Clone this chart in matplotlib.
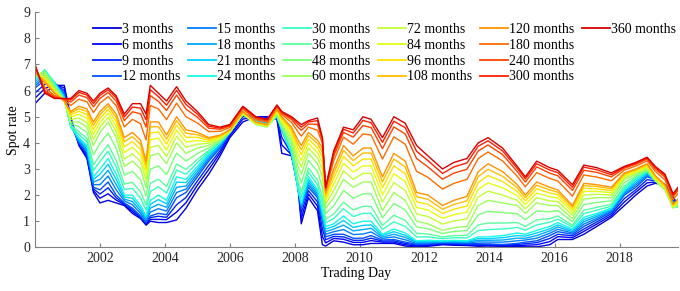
import numpy as np
import matplotlib
matplotlib.use('Agg')
from matplotlib import pyplot as plt
from matplotlib.lines import Line2D

plt.rcParams['font.family'] = ['Liberation Serif', 'DejaVu Serif']
plt.rcParams['font.size'] = 10

# decimal years of the sampled trading days
dates = [2000.00, 2000.3, 2000.6, 2000.9, 2001.1, 2001.35, 2001.6, 2001.8, 2002.0, 2002.25,
         2002.5, 2002.75, 2003.0, 2003.25, 2003.42, 2003.55, 2003.8, 2004.05, 2004.36, 2004.65,
         2005.0, 2005.35, 2005.7, 2006.0, 2006.4, 2006.8, 2007.15, 2007.45, 2007.6, 2007.9,
         2008.1, 2008.2, 2008.42, 2008.7, 2008.85, 2008.95, 2009.2, 2009.5, 2009.8, 2010.1,
         2010.35, 2010.7, 2011.05, 2011.4, 2011.75, 2012.1, 2012.55, 2012.9, 2013.3, 2013.65,
         2013.95, 2014.4, 2014.85, 2015.1, 2015.45, 2015.85, 2016.1, 2016.55, 2016.9, 2017.3,
         2017.75, 2018.15, 2018.5, 2018.85, 2019.1, 2019.4, 2019.65, 2019.8]

maturities = [3, 6, 9, 12, 15, 18, 21, 24, 30, 36, 48, 60, 72, 84, 96, 108, 120, 180, 240, 300, 360]

r3 = [5.5, 5.9, 6.2, 6.2, 5.0, 3.9, 3.4, 2.1, 1.7, 1.8, 1.7, 1.6, 1.3, 1.1, 0.85, 1.0, 0.95, 0.95, 1.05, 1.5,
      2.2, 2.8, 3.5, 4.2, 4.8, 5.0, 5.0, 4.9, 3.6, 3.5, 2.3, 0.9, 1.9, 1.4, 0.1, 0.05, 0.25, 0.2, 0.1, 0.1,
      0.15, 0.15, 0.15, 0.05, 0.02, 0.04, 0.1, 0.08, 0.07, 0.04, 0.05, 0.04, 0.03, 0.02, 0.02, 0.1, 0.3, 0.3, 0.5, 0.8,
      1.15, 1.6, 2.0, 2.35, 2.45, 2.4, 1.95, 1.6]
r6 = [5.71, 6.08, 6.24, 6.1, 4.9, 3.94, 3.47, 2.17, 1.88, 2.05, 1.81, 1.64, 1.37, 1.14, 0.89, 1.07, 1.07, 1.06, 1.35, 1.71,
      2.38, 2.98, 3.61, 4.27, 4.91, 5.0, 4.97, 4.94, 3.92, 3.54, 2.3, 1.11, 2.04, 1.58, 0.42, 0.17, 0.34, 0.31, 0.19, 0.19,
      0.26, 0.2, 0.2, 0.1, 0.06, 0.07, 0.12, 0.11, 0.09, 0.08, 0.08, 0.06, 0.07, 0.08, 0.1, 0.22, 0.41, 0.37, 0.61, 0.89,
      1.22, 1.74, 2.11, 2.47, 2.5, 2.4, 1.9, 1.6]
r9 = [5.91, 6.24, 6.27, 6.0, 4.8, 3.97, 3.54, 2.24, 2.04, 2.28, 1.9, 1.67, 1.44, 1.17, 0.92, 1.14, 1.19, 1.15, 1.63, 1.91,
      2.54, 3.14, 3.7, 4.34, 5.0, 5.0, 4.93, 4.97, 4.21, 3.57, 2.3, 1.31, 2.17, 1.74, 0.71, 0.29, 0.42, 0.4, 0.27, 0.27,
      0.35, 0.24, 0.25, 0.15, 0.09, 0.1, 0.15, 0.13, 0.12, 0.11, 0.1, 0.09, 0.11, 0.14, 0.18, 0.34, 0.5, 0.44, 0.7, 0.97,
      1.29, 1.87, 2.2, 2.59, 2.55, 2.4, 1.85, 1.6]
r12 = [6.1, 6.4, 6.3, 5.9, 4.7, 4.0, 3.6, 2.3, 2.2, 2.5, 2.0, 1.7, 1.5, 1.2, 0.95, 1.2, 1.3, 1.25, 1.9, 2.1,
       2.7, 3.3, 3.8, 4.4, 5.1, 5.0, 4.9, 5.0, 4.5, 3.6, 2.3, 1.5, 2.3, 1.9, 1.0, 0.4, 0.5, 0.5, 0.35, 0.35,
       0.45, 0.28, 0.3, 0.2, 0.12, 0.13, 0.17, 0.16, 0.14, 0.14, 0.13, 0.11, 0.15, 0.2, 0.25, 0.45, 0.6, 0.5, 0.8, 1.05,
       1.35, 2.0, 2.3, 2.7, 2.6, 2.4, 1.8, 1.6]
r15 = [6.18, 6.5, 6.3, 5.85, 4.68, 4.05, 3.68, 2.4, 2.4, 2.73, 2.2, 1.78, 1.63, 1.3, 1.01, 1.35, 1.48, 1.39, 2.1, 2.23,
       2.8, 3.38, 3.85, 4.4, 5.1, 4.95, 4.85, 5.0, 4.5, 3.6, 2.28, 1.55, 2.4, 1.98, 1.1, 0.5, 0.6, 0.68, 0.49, 0.51,
       0.59, 0.34, 0.4, 0.29, 0.15, 0.17, 0.19, 0.19, 0.17, 0.21, 0.2, 0.2, 0.25, 0.28, 0.35, 0.54, 0.69, 0.55, 0.89, 1.11,
       1.39, 2.05, 2.38, 2.75, 2.59, 2.36, 1.74, 1.59]
r18 = [6.25, 6.6, 6.3, 5.8, 4.65, 4.1, 3.75, 2.5, 2.6, 2.95, 2.4, 1.85, 1.75, 1.4, 1.08, 1.5, 1.65, 1.53, 2.3, 2.35,
       2.9, 3.45, 3.9, 4.4, 5.1, 4.9, 4.8, 5.0, 4.5, 3.6, 2.25, 1.6, 2.5, 2.05, 1.2, 0.6, 0.7, 0.85, 0.63, 0.68,
       0.73, 0.39, 0.5, 0.38, 0.19, 0.2, 0.21, 0.22, 0.2, 0.27, 0.27, 0.28, 0.35, 0.35, 0.45, 0.63, 0.78, 0.6, 0.98, 1.18,
       1.43, 2.1, 2.45, 2.8, 2.58, 2.33, 1.68, 1.58]
r21 = [6.33, 6.7, 6.3, 5.75, 4.63, 4.15, 3.83, 2.6, 2.8, 3.18, 2.6, 1.93, 1.88, 1.5, 1.14, 1.65, 1.83, 1.66, 2.5, 2.48,
       3.0, 3.53, 3.95, 4.4, 5.1, 4.85, 4.75, 5.0, 4.5, 3.6, 2.23, 1.65, 2.6, 2.13, 1.3, 0.7, 0.8, 1.03, 0.76, 0.84,
       0.86, 0.45, 0.6, 0.46, 0.22, 0.24, 0.23, 0.24, 0.22, 0.34, 0.33, 0.37, 0.45, 0.43, 0.55, 0.71, 0.86, 0.65, 1.06, 1.24,
       1.46, 2.15, 2.53, 2.85, 2.56, 2.29, 1.61, 1.56]
r24 = [6.4, 6.8, 6.3, 5.7, 4.6, 4.2, 3.9, 2.7, 3.0, 3.4, 2.8, 2.0, 2.0, 1.6, 1.2, 1.8, 2.0, 1.8, 2.7, 2.6,
       3.1, 3.6, 4.0, 4.4, 5.1, 4.8, 4.7, 5.0, 4.5, 3.6, 2.2, 1.7, 2.7, 2.2, 1.4, 0.8, 0.9, 1.2, 0.9, 1.0,
       1.0, 0.5, 0.7, 0.55, 0.25, 0.27, 0.25, 0.27, 0.25, 0.4, 0.4, 0.45, 0.55, 0.5, 0.65, 0.8, 0.95, 0.7, 1.15, 1.3,
       1.5, 2.2, 2.6, 2.9, 2.55, 2.25, 1.55, 1.55]
r30 = [6.44, 6.78, 6.26, 5.68, 4.64, 4.32, 4.04, 2.94, 3.28, 3.68, 3.08, 2.22, 2.26, 1.88, 1.42, 2.14, 2.32, 2.08, 2.96, 2.8,
       3.24, 3.66, 4.02, 4.4, 5.1, 4.78, 4.68, 5.02, 4.54, 3.7, 2.38, 1.92, 2.88, 2.4, 1.66, 0.94, 1.1, 1.48, 1.18, 1.3,
       1.3, 0.68, 0.98, 0.8, 0.4, 0.4, 0.33, 0.37, 0.36, 0.64, 0.68, 0.7, 0.76, 0.66, 0.86, 0.96, 1.08, 0.78, 1.29, 1.42,
       1.58, 2.28, 2.64, 2.92, 2.55, 2.24, 1.54, 1.56]
r36 = [6.48, 6.76, 6.22, 5.66, 4.68, 4.43, 4.17, 3.16, 3.53, 3.93, 3.33, 2.42, 2.49, 2.13, 1.62, 2.45, 2.61, 2.33, 3.19, 2.98,
       3.37, 3.71, 4.04, 4.4, 5.1, 4.76, 4.66, 5.04, 4.58, 3.79, 2.54, 2.12, 3.04, 2.58, 1.89, 1.07, 1.28, 1.73, 1.43, 1.57,
       1.57, 0.84, 1.23, 1.03, 0.54, 0.51, 0.4, 0.45, 0.46, 0.86, 0.93, 0.93, 0.95, 0.8, 1.05, 1.1, 1.2, 0.85, 1.42, 1.53,
       1.65, 2.35, 2.68, 2.94, 2.55, 2.23, 1.53, 1.57]
r48 = [6.54, 6.73, 6.16, 5.63, 4.74, 4.62, 4.39, 3.54, 3.98, 4.38, 3.78, 2.77, 2.91, 2.58, 1.97, 2.99, 3.12, 2.78, 3.61, 3.3,
       3.59, 3.81, 4.07, 4.4, 5.1, 4.73, 4.63, 5.07, 4.64, 3.95, 2.83, 2.47, 3.33, 2.9, 2.31, 1.29, 1.6, 2.18, 1.88, 2.05,
       2.05, 1.13, 1.68, 1.43, 0.78, 0.71, 0.53, 0.61, 0.64, 1.24, 1.38, 1.33, 1.29, 1.06, 1.39, 1.36, 1.41, 0.98, 1.64, 1.72,
       1.78, 2.48, 2.74, 2.97, 2.55, 2.22, 1.52, 1.59]
r60 = [6.6, 6.7, 6.1, 5.6, 4.8, 4.8, 4.6, 3.9, 4.4, 4.8, 4.2, 3.1, 3.3, 3.0, 2.3, 3.5, 3.6, 3.2, 4.0, 3.6,
       3.8, 3.9, 4.1, 4.4, 5.1, 4.7, 4.6, 5.1, 4.7, 4.1, 3.1, 2.8, 3.6, 3.2, 2.7, 1.5, 1.9, 2.6, 2.3, 2.5,
       2.5, 1.4, 2.1, 1.8, 1.0, 0.9, 0.65, 0.75, 0.8, 1.6, 1.8, 1.7, 1.6, 1.3, 1.7, 1.6, 1.6, 1.1, 1.85, 1.9,
       1.9, 2.6, 2.8, 3.0, 2.55, 2.2, 1.5, 1.6]
r72 = [6.63, 6.6, 6.05, 5.6, 4.9, 4.95, 4.78, 4.13, 4.6, 4.98, 4.43, 3.38, 3.58, 3.28, 2.55, 3.83, 3.9, 3.48, 4.25, 3.83,
       3.95, 3.98, 4.15, 4.43, 5.13, 4.73, 4.63, 5.15, 4.78, 4.23, 3.35, 3.08, 3.8, 3.43, 2.98, 1.65, 2.18, 2.93, 2.6, 2.83,
       2.83, 1.73, 2.48, 2.18, 1.28, 1.18, 0.89, 1.01, 1.09, 1.93, 2.15, 2.0, 1.8, 1.48, 1.9, 1.78, 1.75, 1.23, 2.0, 2.03,
       2.0, 2.66, 2.85, 3.05, 2.6, 2.25, 1.54, 1.66]
r84 = [6.65, 6.51, 6.0, 5.6, 4.99, 5.09, 4.94, 4.33, 4.78, 5.14, 4.63, 3.63, 3.83, 3.53, 2.78, 4.12, 4.18, 3.73, 4.48, 4.03,
       4.09, 4.04, 4.2, 4.45, 5.15, 4.75, 4.65, 5.2, 4.84, 4.34, 3.58, 3.33, 3.98, 3.63, 3.23, 1.79, 2.43, 3.22, 2.88, 3.12,
       3.12, 2.02, 2.82, 2.52, 1.53, 1.43, 1.11, 1.25, 1.35, 2.22, 2.47, 2.28, 1.98, 1.64, 2.08, 1.94, 1.89, 1.34, 2.14, 2.14,
       2.09, 2.72, 2.9, 3.1, 2.65, 2.3, 1.57, 1.72]
r96 = [6.67, 6.43, 5.96, 5.6, 5.07, 5.21, 5.08, 4.51, 4.94, 5.28, 4.81, 3.85, 4.05, 3.75, 2.98, 4.38, 4.42, 3.95, 4.68, 4.21,
       4.21, 4.1, 4.24, 4.47, 5.17, 4.77, 4.67, 5.24, 4.9, 4.44, 3.78, 3.55, 4.14, 3.81, 3.45, 1.91, 2.65, 3.48, 3.12, 3.38,
       3.38, 2.28, 3.12, 2.82, 1.75, 1.65, 1.3, 1.46, 1.58, 2.48, 2.75, 2.52, 2.14, 1.78, 2.24, 2.08, 2.01, 1.44, 2.26, 2.24,
       2.17, 2.77, 2.94, 3.14, 2.69, 2.34, 1.6, 1.77]
r108 = [6.69, 6.36, 5.93, 5.6, 5.14, 5.31, 5.2, 4.67, 5.08, 5.4, 4.97, 4.04, 4.24, 3.94, 3.15, 4.61, 4.62, 4.14, 4.85, 4.37,
        4.31, 4.16, 4.27, 4.49, 5.19, 4.79, 4.69, 5.27, 4.96, 4.53, 3.95, 3.74, 4.28, 3.97, 3.64, 2.01, 2.84, 3.71, 3.32, 3.61,
        3.61, 2.51, 3.38, 3.08, 1.94, 1.84, 1.46, 1.64, 1.78, 2.71, 2.99, 2.72, 2.28, 1.9, 2.38, 2.2, 2.11, 1.53, 2.36, 2.33,
        2.24, 2.81, 2.97, 3.17, 2.72, 2.37, 1.63, 1.81]
r120 = [6.7, 6.3, 5.9, 5.6, 5.2, 5.4, 5.3, 4.8, 5.2, 5.5, 5.1, 4.2, 4.4, 4.1, 3.3, 4.8, 4.8, 4.3, 5.0, 4.5,
        4.4, 4.2, 4.3, 4.5, 5.2, 4.8, 4.7, 5.3, 5.0, 4.6, 4.1, 3.9, 4.4, 4.1, 3.8, 2.1, 3.0, 3.9, 3.5, 3.8,
        3.8, 2.7, 3.6, 3.3, 2.1, 2.0, 1.6, 1.8, 1.95, 2.9, 3.2, 2.9, 2.4, 2.0, 2.5, 2.3, 2.2, 1.6, 2.45, 2.4,
        2.3, 2.85, 3.0, 3.2, 2.75, 2.4, 1.65, 1.85]
r180 = [6.84, 6.12, 5.81, 5.65, 5.43, 5.67, 5.57, 5.16, 5.52, 5.77, 5.42, 4.61, 4.9, 4.73, 4.11, 5.43, 5.3, 4.89, 5.52, 5.0,
        4.76, 4.43, 4.44, 4.59, 5.29, 4.89, 4.79, 5.37, 5.09, 4.78, 4.42, 4.26, 4.6, 4.48, 3.98, 2.19, 3.32, 4.22, 3.95, 4.34,
        4.3, 3.38, 4.23, 3.95, 2.91, 2.68, 2.23, 2.45, 2.6, 3.4, 3.65, 3.31, 2.72, 2.32, 2.86, 2.64, 2.54, 1.96, 2.77, 2.69,
        2.55, 2.96, 3.11, 3.31, 2.91, 2.58, 1.83, 2.05]
r240 = [6.92, 6.01, 5.76, 5.67, 5.56, 5.83, 5.73, 5.38, 5.7, 5.93, 5.6, 4.85, 5.19, 5.11, 4.6, 5.81, 5.59, 5.24, 5.83, 5.29,
        4.98, 4.56, 4.52, 4.64, 5.34, 4.94, 4.84, 5.41, 5.14, 4.89, 4.6, 4.48, 4.72, 4.71, 4.09, 2.24, 3.5, 4.4, 4.22, 4.66,
        4.59, 3.78, 4.61, 4.34, 3.4, 3.08, 2.61, 2.84, 2.99, 3.69, 3.92, 3.55, 2.9, 2.5, 3.08, 2.84, 2.74, 2.18, 2.95, 2.87,
        2.7, 3.03, 3.18, 3.38, 3.0, 2.69, 1.94, 2.17]
r300 = [6.96, 5.95, 5.72, 5.69, 5.64, 5.93, 5.83, 5.5, 5.82, 6.03, 5.72, 4.99, 5.37, 5.33, 4.88, 6.03, 5.77, 5.44, 6.01, 5.47,
        5.1, 4.64, 4.56, 4.68, 5.38, 4.98, 4.88, 5.43, 5.18, 4.95, 4.72, 4.6, 4.8, 4.85, 4.15, 2.28, 3.62, 4.52, 4.38, 4.86,
        4.77, 4.02, 4.83, 4.58, 3.68, 3.32, 2.83, 3.08, 3.23, 3.87, 4.08, 3.69, 3.02, 2.62, 3.2, 2.96, 2.86, 2.3, 3.07, 2.97,
        2.78, 3.07, 3.22, 3.42, 3.06, 2.75, 2.0, 2.25]
r360 = [7.0, 5.9, 5.7, 5.7, 5.7, 6.0, 5.9, 5.6, 5.9, 6.1, 5.8, 5.1, 5.5, 5.5, 5.1, 6.2, 5.9, 5.6, 6.15, 5.6,
        5.2, 4.7, 4.6, 4.7, 5.4, 5.0, 4.9, 5.45, 5.2, 5.0, 4.8, 4.7, 4.85, 4.95, 4.2, 2.3, 3.7, 4.6, 4.5, 5.0,
        4.9, 4.2, 5.0, 4.75, 3.9, 3.5, 3.0, 3.25, 3.4, 4.0, 4.2, 3.8, 3.1, 2.7, 3.3, 3.05, 2.95, 2.4, 3.15, 3.05,
        2.85, 3.1, 3.25, 3.45, 3.1, 2.8, 2.05, 2.3]

rates = [r3, r6, r9, r12, r15, r18, r21, r24, r30, r36, r48, r60,
         r72, r84, r96, r108, r120, r180, r240, r300, r360]

year_ticks = [2002, 2004, 2006, 2008, 2010, 2012, 2014, 2016, 2018]

fig = plt.figure(figsize=(6.8, 2.91), dpi=100)
ax = fig.add_axes([0.0515, 0.150, 0.9455, 0.808])

colors = plt.cm.jet(np.linspace(0.08, 0.92, len(maturities)))
handles = []
for m, r, c in zip(maturities, rates, colors):
    h, = ax.plot(dates, r, color=c, linewidth=1.0, label='%d months' % m)
    handles.append(h)
labels = [h.get_label() for h in handles]

# pad so the legend fills 4 rows per column like the original
for i in range(3):
    handles.append(Line2D([], [], linestyle='none'))
    labels.append('')

ax.set_xlim(dates[0], dates[-1])
ax.set_ylim(0, 9)
ax.set_xticks(year_ticks)
ax.set_xticklabels([str(y) for y in year_ticks])
ax.set_yticks(range(10))
ax.set_xlabel('Trading Day', labelpad=1)
ax.set_ylabel('Spot rate', labelpad=2)

for s in ['top', 'right']:
    ax.spines[s].set_visible(False)
for s in ['left', 'bottom']:
    ax.spines[s].set_color('#808080')
ax.tick_params(direction='in', length=3, colors='#808080', labelcolor='#262626')

leg = ax.legend(handles, labels, ncol=6, loc='upper left', bbox_to_anchor=(0.09, 0.954),
                frameon=False, borderpad=0, borderaxespad=0, handlelength=2.0,
                handletextpad=0.1, columnspacing=0.55, labelspacing=0.2)
for line in leg.get_lines():
    line.set_linewidth(1.3)

fig.savefig('out.png', dpi=100)
